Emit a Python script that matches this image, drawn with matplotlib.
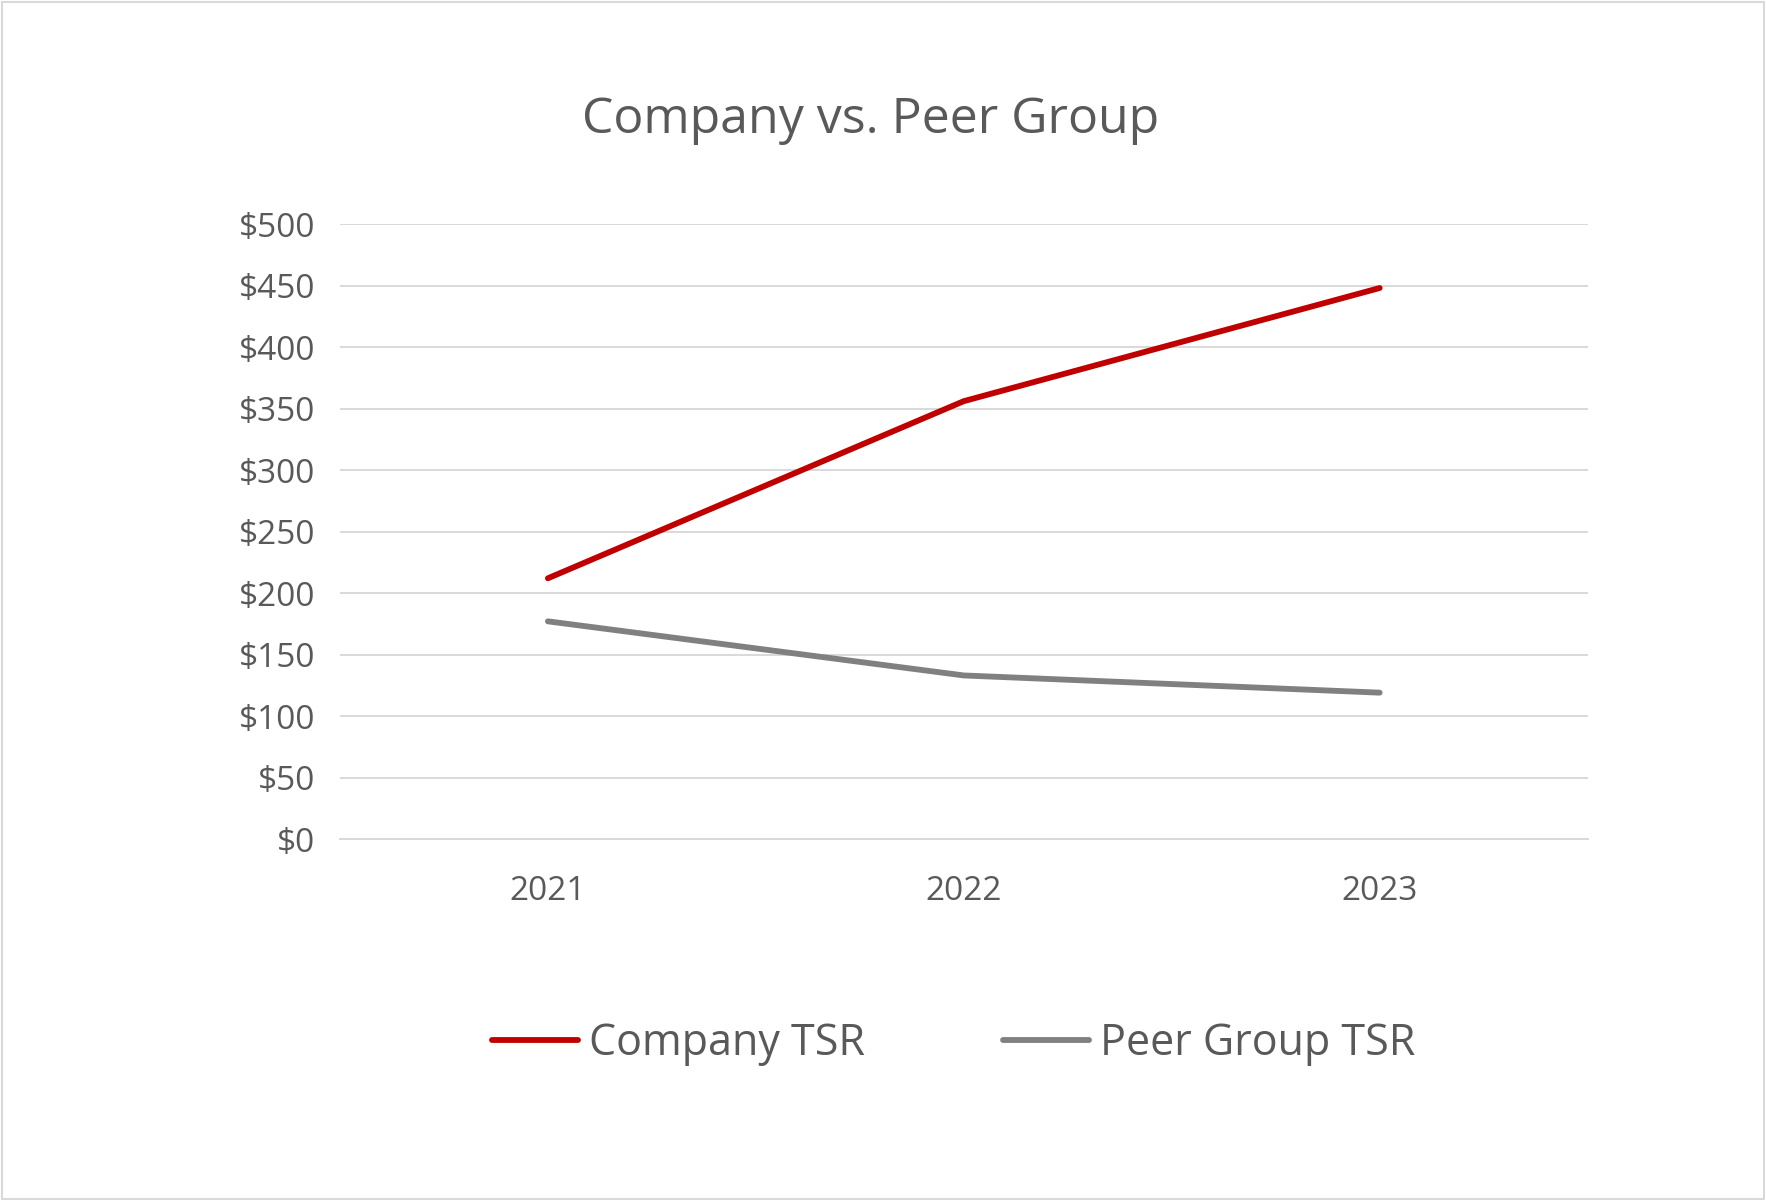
import matplotlib.pyplot as plt
from matplotlib.patches import Rectangle
from matplotlib.ticker import FuncFormatter

# --- data ---
years = ["2021", "2022", "2023"]
company_tsr = [212, 356, 448]
peer_tsr = [177, 133, 119]
y_ticks = [0, 50, 100, 150, 200, 250, 300, 350, 400, 450, 500]

plt.rcParams['font.family'] = ['Open Sans', 'DejaVu Sans']
TEXT = '#595959'
GRID = '#d9d9d9'

fig = plt.figure(figsize=(17.66, 12), dpi=100)
ax = fig.add_axes([0.1925, 0.3008, 0.7065, 0.5125])

x = range(len(years))
ax.plot(x, company_tsr, color='#c00000', lw=4.2, solid_capstyle='round',
        solid_joinstyle='round', label='Company TSR', zorder=3)
ax.plot(x, peer_tsr, color='#808080', lw=4.2, solid_capstyle='round',
        solid_joinstyle='round', label='Peer Group TSR', zorder=3)

ax.set_xlim(-0.5, 2.5)
ax.set_ylim(0, 500)
ax.set_yticks(y_ticks)
ax.yaxis.set_major_formatter(FuncFormatter(lambda v, p: f"${v:.0f}"))
ax.set_xticks(list(x))
ax.set_xticklabels(years)

ax.grid(axis='y', color=GRID, lw=1.4)
ax.set_axisbelow(True)
for s in ax.spines.values():
    s.set_visible(False)
ax.spines['bottom'].set_visible(True)
ax.spines['bottom'].set_color(GRID)
ax.spines['bottom'].set_linewidth(1.4)
ax.tick_params(axis='both', length=0, colors=TEXT, labelsize=24)
ax.tick_params(axis='y', pad=18)
ax.tick_params(axis='x', pad=26)

fig.text(0.493, 0.900, "Company vs. Peer Group", ha='center', va='center',
         fontsize=36, color=TEXT)

fig.legend(loc='center', bbox_to_anchor=(0.540, 0.130), ncol=2, frameon=False,
           fontsize=31, labelcolor=TEXT, handlelength=2.0, handletextpad=0.26,
           columnspacing=3.2)

# light frame round the chart area
fig.patches.append(Rectangle((0.001, 0.001), 0.998, 0.997, transform=fig.transFigure,
                             fill=False, edgecolor=GRID, lw=1.5))

fig.savefig("out.png", dpi=100, facecolor='white')
